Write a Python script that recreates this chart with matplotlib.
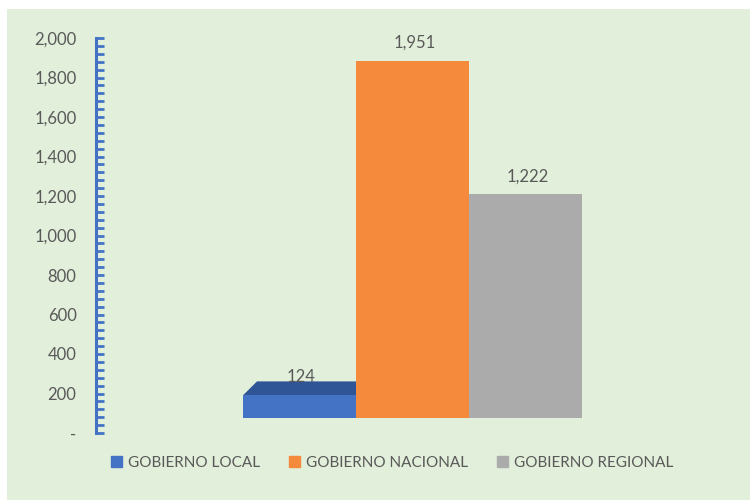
import matplotlib.pyplot as plt
from matplotlib.patches import Polygon
from matplotlib.ticker import MultipleLocator, FuncFormatter

series = ['GOBIERNO LOCAL', 'GOBIERNO NACIONAL', 'GOBIERNO REGIONAL']
values = [124, 1951, 1222]
labels = ['124', '1,951', '1,222']
colors = ['#4472C4', '#F58A3C', '#ABABAB']
top_color = '#2F5597'

bg = '#E2EFDA'
text_color = '#595959'
plt.rcParams['font.family'] = ['Lato', 'DejaVu Sans']

fig = plt.figure(figsize=(7.5, 5), dpi=100)
fig.patch.set_facecolor('white')
# green chart area
fig.add_artist(plt.Rectangle((7 / 750, 0), 1, 1 - 9 / 500, transform=fig.transFigure,
                             facecolor=bg, edgecolor='none', zorder=0))

# value axis (back plane)
ax_axis = fig.add_axes([96 / 750, 1 - 433 / 500, 0.5, (433 - 38) / 500])
ax_axis.patch.set_visible(False)
ax_axis.set_ylim(0, 2000)
ax_axis.set_xlim(0, 1)
for s in ['top', 'right', 'bottom']:
    ax_axis.spines[s].set_visible(False)
ax_axis.spines['left'].set_color('#4472C4')
ax_axis.spines['left'].set_linewidth(2.2)
ax_axis.yaxis.set_major_locator(MultipleLocator(200))
ax_axis.yaxis.set_minor_locator(MultipleLocator(40))
ax_axis.yaxis.set_major_formatter(FuncFormatter(lambda v, p: '-' if v == 0 else f'{int(v):,}'))
ax_axis.tick_params(axis='y', which='both', direction='in', color='#4472C4', width=2,
                    length=6, labelsize=12, labelcolor=text_color, pad=14)
ax_axis.set_xticks([])

# bars (front plane)
ax = fig.add_axes([243 / 750, 1 - 418 / 500, 339 / 750, 366 / 500])
ax.patch.set_visible(False)
ax.set_xlim(-0.5, 2.5)
ax.set_ylim(0, 2000)
ax.axis('off')

xs = range(len(values))
bars = ax.bar(xs, values, width=1.0, color=colors, label=series, zorder=3)

# top face of the local bar (3D depth)
dx, dy = 0.124, 76
v = values[0]
top = Polygon([(-0.5, v), (0.5, v), (0.5 + dx, v + dy), (-0.5 + dx, v + dy)],
              closed=True, facecolor=top_color, edgecolor='none', zorder=2)
ax.add_patch(top)

for x, v, t in zip(xs, values, labels):
    ax.annotate(t, xy=(x, v), xytext=(2, 18), textcoords='offset pixels',
                ha='center', va='center', fontsize=12, color=text_color)

handles = [plt.Rectangle((0, 0), 1, 1, color=c) for c in colors]
fig.legend(handles, series, loc='center', bbox_to_anchor=(392 / 750, 1 - 463 / 500),
           ncol=3, frameon=False, fontsize=11, labelcolor=text_color,
           handlelength=0.7, handleheight=0.7, handletextpad=0.4, columnspacing=1.9)

fig.savefig('out.png', dpi=100, facecolor='white')
